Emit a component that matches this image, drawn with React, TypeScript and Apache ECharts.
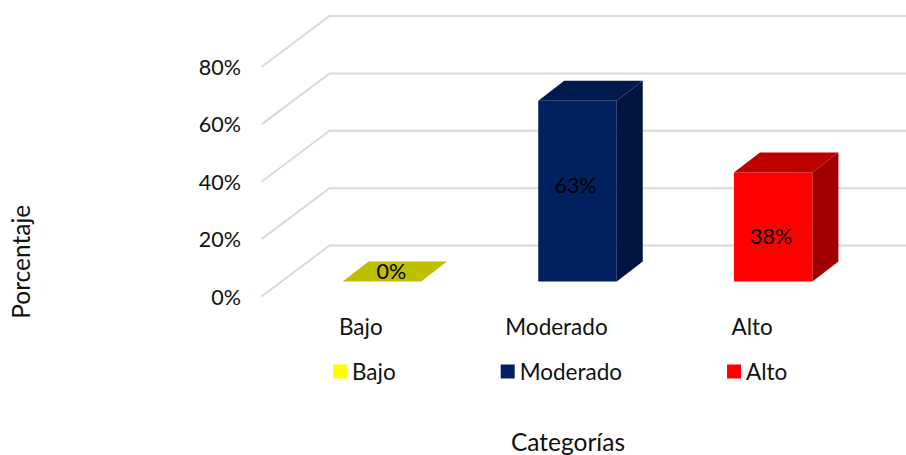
import React, { useEffect, useRef } from "react";
import * as echarts from "echarts";

const categories = ["Bajo", "Moderado", "Alto"];
const values = [0, 63, 38];
const gridTicks = [0, 20, 40, 60, 80];

const FONT = "Lato, Carlito, sans-serif";
const frontColors = ["#FFFF00", "#002060", "#FF0000"];
const topColors = ["#BFBF00", "#001A4D", "#BF0000"];
const sideColors = ["#A0A000", "#001440", "#A00000"];
const labelShift = [
  [9.5, -11],
  [-2, -6],
  [-2, 9],
];

const WALL_DX = 68;
const WALL_DY = -51;
const BAR_DX = 26;
const BAR_DY = -20;
const BASE_SHIFT_X = 21;
const BASE_SHIFT_Y = -15;
const BAR_WIDTH = 78.5;

function wallItem(params: any, api: any) {
  const x0 = params.coordSys.x - 1.5;
  const y = api.coord([0, api.value(1)])[1];
  return {
    type: "polyline",
    shape: {
      points: [
        [x0, y],
        [x0 + WALL_DX, y + WALL_DY],
        [906, y + WALL_DY],
      ],
    },
    style: { stroke: "#D9D9D9", lineWidth: 2, fill: "none" },
  };
}

function barItem(index: number) {
  return (_params: any, api: any) => {
    const v = api.value(1);
    const cat = api.value(0);
    const top = api.coord([cat, v]);
    const bottom = api.coord([cat, 0]);
    const xl = top[0] + BASE_SHIFT_X - BAR_WIDTH / 2;
    const xr = xl + BAR_WIDTH;
    const yb = bottom[1] + BASE_SHIFT_Y;
    const yt = top[1] + BASE_SHIFT_Y;
    const children: any[] = [];
    if (v > 0) {
      children.push({
        type: "polygon",
        shape: { points: [[xl, yb], [xr, yb], [xr, yt], [xl, yt]] },
        style: { fill: frontColors[index] },
      });
      children.push({
        type: "polygon",
        shape: {
          points: [
            [xr, yb],
            [xr + BAR_DX, yb + BAR_DY],
            [xr + BAR_DX, yt + BAR_DY],
            [xr, yt],
          ],
        },
        style: { fill: sideColors[index] },
      });
    }
    children.push({
      type: "polygon",
      shape: {
        points: [
          [xl, yt],
          [xr, yt],
          [xr + BAR_DX, yt + BAR_DY],
          [xl + BAR_DX, yt + BAR_DY],
        ],
      },
      style: { fill: topColors[index] },
    });
    children.push({
      type: "text",
      x: (xl + xr) / 2 + labelShift[index][0],
      y: (yb + yt) / 2 + labelShift[index][1],
      style: {
        text: v + "%",
        fill: "#000000",
        font: "21.5px " + FONT,
        align: "center",
        verticalAlign: "middle",
      },
    });
    return { type: "group", children };
  };
}

export default function App() {
  const ref = useRef<HTMLDivElement>(null);
  useEffect(() => {
    if (!ref.current) return;
    const chart = echarts.init(ref.current, undefined, { renderer: "svg" });
    chart.setOption({
      animation: false,
      backgroundColor: "#FFFFFF",
      grid: {
        left: 263,
        right: 56,
        top: 67,
        bottom: 158.5,
        containLabel: false,
        outerBoundsMode: "none",
      },
      legend: {
        left: 328,
        top: 355,
        data: categories,
        icon: "rect",
        itemWidth: 14,
        itemHeight: 14,
        itemGap: 105,
        selectedMode: false,
        textStyle: { fontFamily: FONT, fontSize: 22.5, color: "#111111" },
      },
      xAxis: {
        type: "category",
        data: categories,
        name: "Categorías",
        nameLocation: "middle",
        nameGap: 132,
        nameTextStyle: {
          fontFamily: FONT,
          fontSize: 24.5,
          color: "#111111",
          padding: [0, 0, 0, 23],
        },
        axisLine: { show: false },
        axisTick: { show: false },
        axisLabel: { fontFamily: FONT, fontSize: 22.5, color: "#111111", margin: 18 },
      },
      yAxis: {
        type: "value",
        min: 0,
        max: 80,
        interval: 20,
        name: "Porcentaje",
        nameLocation: "middle",
        nameGap: 230,
        nameTextStyle: {
          fontFamily: FONT,
          fontSize: 24.5,
          color: "#111111",
          padding: [0, 160, 0, 0],
        },
        splitLine: { show: false },
        axisLine: { show: false },
        axisTick: { show: false },
        axisLabel: {
          formatter: "{value}%",
          fontFamily: FONT,
          fontSize: 21.5,
          color: "#111111",
          margin: 22,
        },
      },
      series: [
        {
          type: "custom",
          name: "walls",
          silent: true,
          renderItem: wallItem,
          data: gridTicks.map((t) => [0, t]),
          encode: { x: 0, y: 1 },
          z: 1,
        },
        ...categories.map((name, i) => ({
          type: "custom",
          name,
          renderItem: barItem(i),
          data: [[i, values[i]]],
          encode: { x: 0, y: 1 },
          itemStyle: { color: frontColors[i] },
          z: 2,
        })),
      ],
    });
    return () => chart.dispose();
  }, []);
  return (
    <div
      ref={ref}
      style={{ position: "fixed", left: 0, top: 0, width: 906, height: 455 }}
    />
  );
}
